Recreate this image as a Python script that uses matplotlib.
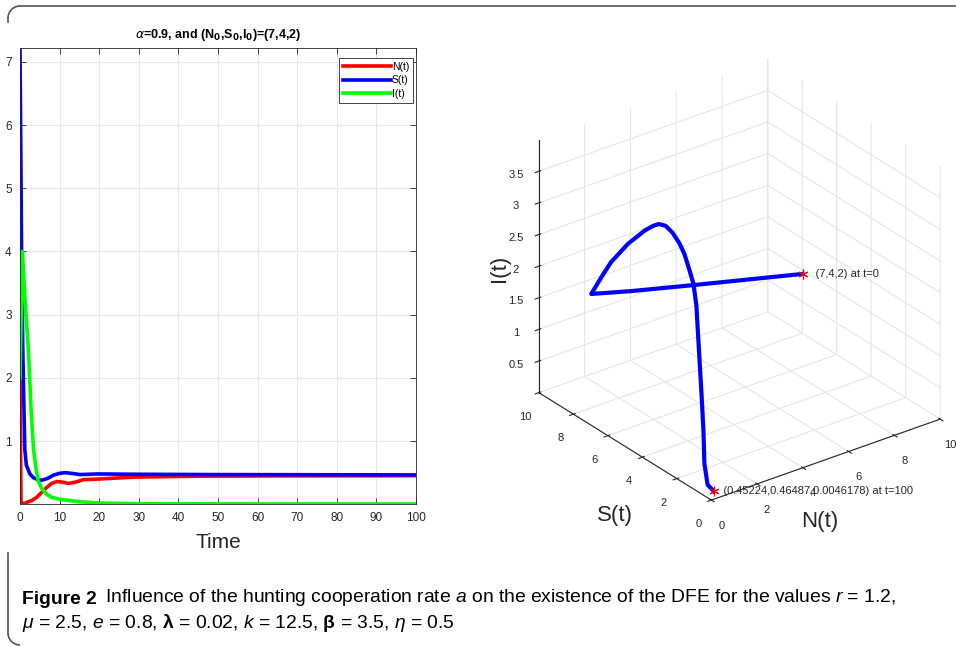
import numpy as np
import matplotlib.pyplot as plt
from matplotlib.patches import Arc
from matplotlib.lines import Line2D

plt.rcParams['font.family'] = ['Liberation Sans', 'DejaVu Sans']

W, H = 956, 647

# --- time series ---
t_N = [0, 0.25, 1.0, 1.7, 3.0, 4.2, 5.5, 6.8, 8.0, 9.3, 10.8, 12.2, 14, 16, 20, 28.7, 45, 70, 100]
N_t = [2.0, 0.02, 0.01, 0.03, 0.06, 0.11, 0.19, 0.27, 0.33, 0.36, 0.35, 0.33, 0.35, 0.39, 0.40, 0.43, 0.445, 0.45, 0.452]

t_S = [0, 0.4, 0.7, 1.2, 1.6, 2.5, 3.4, 4.5, 5.5, 7, 8.4, 10, 11.4, 13, 15.2, 19.4, 30, 50, 100]
S_t = [7.22, 4.0, 2.46, 0.88, 0.62, 0.48, 0.42, 0.39, 0.38, 0.41, 0.46, 0.49, 0.50, 0.49, 0.47, 0.48, 0.475, 0.47, 0.465]

t_I = [0, 0.6, 1.2, 2.1, 2.8, 3.4, 4.0, 4.6, 5.5, 6.7, 8, 10, 15, 20, 30, 50, 100]
I_t = [2.0, 4.0, 3.3, 2.46, 1.5, 0.88, 0.58, 0.37, 0.25, 0.16, 0.11, 0.08, 0.04, 0.02, 0.01, 0.006, 0.0046]

# --- phase trajectory (N, S, I) ---
N3 = [7, 3.5, 1.5, 0.3, 0.3, 0.3, 0.3, 0.3, 0.3, 0.3, 0.3, 0.3, 0.3, 0.3, 0.3, 0.35, 0.38, 0.4, 0.4, 0.41, 0.42, 0.44, 0.452]
S3 = [4, 5.51, 6.61, 7.36, 6.75, 6.21, 5.22, 4.23, 3.76, 3.45, 3.05, 2.65, 2.25, 1.96, 1.73, 1.50, 1.37, 1.28, 1.10, 1.0, 0.96, 0.80, 0.465]
I3 = [2, 2.02, 1.99, 1.97, 2.35, 2.67, 3.13, 3.51, 3.66, 3.74, 3.78, 3.74, 3.64, 3.52, 3.36, 3.12, 2.79, 2.25, 1.44, 0.87, 0.36, 0.05, 0.0046]

grid_c = '#e6e6e6'
txt_c = '#262626'

fig = plt.figure(figsize=(W / 100, H / 100), dpi=100)


def fx(x):
    return x / W


def fy(y):
    return 1 - y / H


# --- left panel ---
ax1 = fig.add_axes([fx(20), fy(504), fx(416) - fx(20), fy(48) - fy(504)])
ax1.plot(t_N, N_t, color='r', lw=2.6, label='N(t)')
ax1.plot(t_S, S_t, color='b', lw=2.6, label='S(t)')
ax1.plot(t_I, I_t, color='#00ff00', lw=2.6, label='I(t)')
ax1.set_xlim(0, 100)
ax1.set_ylim(0.0046, 7.22)
ax1.set_xticks(np.arange(0, 101, 10))
ax1.set_yticks(np.arange(1, 8))
ax1.grid(True, color=grid_c, lw=0.8)
ax1.set_axisbelow(True)
ax1.tick_params(direction='in', top=True, right=True, length=4, width=0.6,
                labelsize=8.5, colors=txt_c, pad=6)
for s in ax1.spines.values():
    s.set_color(txt_c)
    s.set_linewidth(0.6)
ax1.set_xlabel('Time', fontsize=15, color=txt_c, labelpad=6)
ax1.set_title(r'$\alpha$=0.9, and (N$_\mathbf{0}$,S$_\mathbf{0}$,I$_\mathbf{0}$)=(7,4,2)',
              fontsize=9, fontweight='bold', color='black', pad=7)
leg = ax1.legend(loc='upper right', bbox_to_anchor=(fx(413), fy(58)), bbox_transform=fig.transFigure,
                 fontsize=7.5, handlelength=4.6, handletextpad=0.1, labelspacing=0.35,
                 borderpad=0.35, borderaxespad=0, fancybox=False, framealpha=1, edgecolor=txt_c)
leg.get_frame().set_linewidth(0.6)

# --- right panel (3D phase portrait) ---
ax3 = fig.add_axes([0.486, 0.107, 0.56, 0.9], projection='3d')
ax3.set_proj_type('ortho')
ax3.view_init(elev=28, azim=-127)
ax3.set_box_aspect((1, 1, 1), zoom=0.9)
ax3.plot(N3, S3, I3, color='b', lw=3)
ax3.plot([N3[0]], [S3[0]], [I3[0]], marker=(6, 2, 0), color='r', ms=7, mew=0.8, ls='none')
ax3.plot([N3[-1]], [S3[-1]], [I3[-1]], marker=(6, 2, 0), color='r', ms=7, mew=0.8, ls='none')
ax3.text(N3[0], S3[0], I3[0], '    (7,4,2) at t=0', fontsize=8, color=txt_c, va='center')
ax3.text(N3[-1], S3[-1], I3[-1], '   (0.45224,0.46487,0.0046178) at t=100', fontsize=8,
         color=txt_c, va='center')
ax3.set_xlim(0, 10)
ax3.set_ylim(0, 10)
ax3.set_zlim(0, 4)
ax3.set_xticks(np.arange(0, 11, 2))
ax3.set_yticks(np.arange(0, 11, 2))
ax3.set_zticks(np.arange(0.5, 3.6, 0.5))
ax3.set_zticklabels(['0.5', '1', '1.5', '2', '2.5', '3', '3.5'])
for a in (ax3.xaxis, ax3.yaxis, ax3.zaxis):
    a.set_pane_color((1, 1, 1, 0))
    a.pane.set_edgecolor((1, 1, 1, 0))
    a._axinfo['grid']['color'] = grid_c
    a._axinfo['grid']['linewidth'] = 0.8
    a.line.set_color(txt_c)
    a.line.set_linewidth(0.8)
    a.label.set_visible(False)
    a.offsetText.set_visible(False)
ax3.title.set_visible(False)
ax3.tick_params(labelsize=8, colors=txt_c)
fig.text(fx(500), fy(268), 'I(t)', fontsize=16, rotation=90, color=txt_c, ha='center', va='center')
fig.text(fx(615), fy(515), 'S(t)', fontsize=16, color=txt_c, ha='center', va='center')
fig.text(fx(820), fy(521), 'N(t)', fontsize=16, color=txt_c, ha='center', va='center')

# --- frame decoration ---
r = 12
fig.add_artist(Line2D([fx(8 + r), fx(956)], [fy(6), fy(6)], color='#555555', lw=1.2))
fig.add_artist(Arc((fx(8 + r), fy(6 + r)), 2 * r / W, 2 * r / H, theta1=90, theta2=180,
                   color='#555555', lw=1.2, transform=fig.transFigure))
fig.add_artist(Line2D([fx(8), fx(8)], [fy(6 + r), fy(22)], color='#555555', lw=1.2))
fig.add_artist(Line2D([fx(8), fx(8)], [fy(553), fy(645 - r)], color='#555555', lw=1.2))
fig.add_artist(Arc((fx(8 + r), fy(645 - r)), 2 * r / W, 2 * r / H, theta1=180, theta2=270,
                   color='#555555', lw=1.2, transform=fig.transFigure))

# --- caption ---
plt.rcParams['mathtext.fontset'] = 'custom'
plt.rcParams['mathtext.it'] = 'Liberation Sans:italic'
plt.rcParams['mathtext.rm'] = 'Liberation Sans'
plt.rcParams['mathtext.bf'] = 'Liberation Sans:bold'
t1 = fig.text(fx(22), fy(604), 'Figure 2', fontsize=13.9, fontweight='bold',
              color='black', va='baseline')
ax1.annotate(r' Influence of the hunting cooperation rate $a$ on the existence of the DFE for the values $r$ = 1.2,',
             xy=(1, 0), xycoords=t1, xytext=(2, 0), textcoords='offset points',
             fontsize=13.9, color='black', va='bottom', annotation_clip=False)
fig.text(fx(22), fy(628), r'$\mu$ = 2.5, $e$ = 0.8, $\mathbf{\lambda}$ = 0.02, $k$ = 12.5, $\mathbf{\beta}$ = 3.5, $\eta$ = 0.5',
         fontsize=13.9, color='black', va='baseline')

fig.savefig('out.png', dpi=100)
